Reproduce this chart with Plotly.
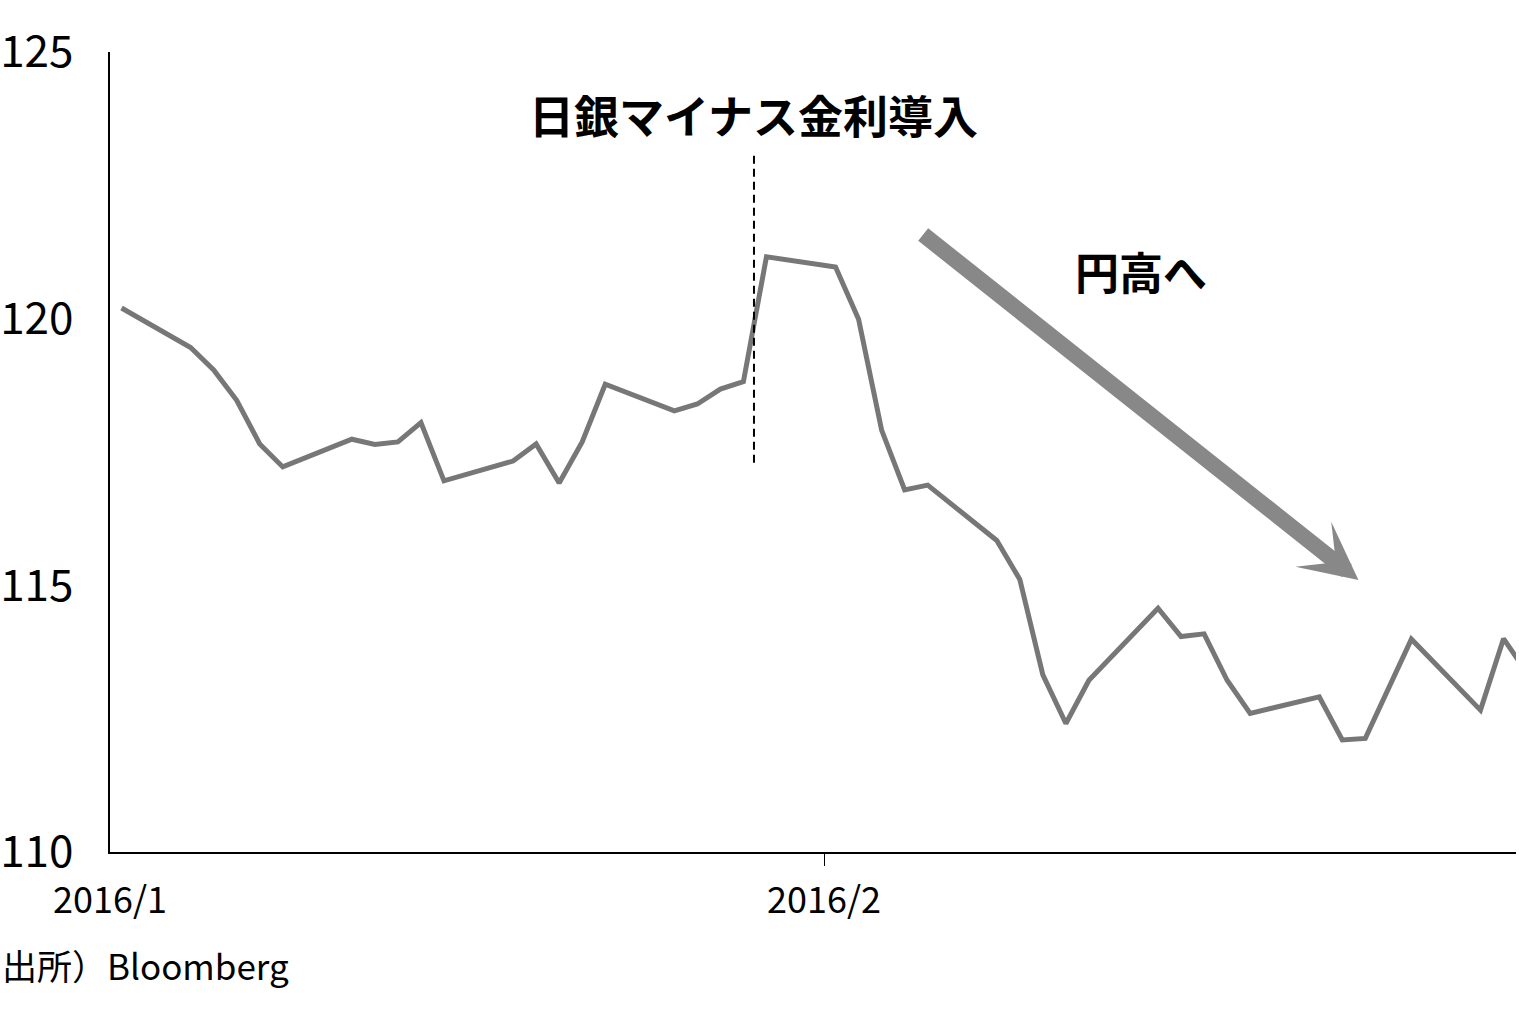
import pandas as pd
import plotly.graph_objects as go

# ---- data ----
dates = [
    "2016-01-01", "2016-01-04", "2016-01-05", "2016-01-06", "2016-01-07", "2016-01-08",
    "2016-01-11", "2016-01-12", "2016-01-13", "2016-01-14", "2016-01-15",
    "2016-01-18", "2016-01-19", "2016-01-20", "2016-01-21", "2016-01-22",
    "2016-01-25", "2016-01-26", "2016-01-27", "2016-01-28", "2016-01-29",
    "2016-02-01", "2016-02-02", "2016-02-03", "2016-02-04", "2016-02-05",
    "2016-02-08", "2016-02-09", "2016-02-10", "2016-02-11", "2016-02-12",
    "2016-02-15", "2016-02-16", "2016-02-17", "2016-02-18", "2016-02-19",
    "2016-02-22", "2016-02-23", "2016-02-24", "2016-02-25", "2016-02-26",
    "2016-02-29", "2016-03-01", "2016-03-02",
]
usdjpy = [
    120.20, 119.46, 119.04, 118.47, 117.65, 117.22,
    117.74, 117.64, 117.69, 118.05, 116.96,
    117.33, 117.65, 116.92, 117.69, 118.77,
    118.27, 118.40, 118.68, 118.82, 121.16,
    120.97, 119.99, 117.91, 116.79, 116.88,
    115.84, 115.11, 113.32, 112.41, 113.22,
    114.57, 114.04, 114.09, 113.22, 112.60,
    112.91, 112.10, 112.13, 113.05, 113.99,
    112.66, 114.00, 113.37,
]
x_tick_vals = ["2016-02-01"]
x_tick_text = ["2016/2"]
first_tick_label = "2016/1"
y_tick_vals = [110, 115, 120, 125]
y_tick_text = ["110", "115", "120", "125"]
event_label = "日銀マイナス金利導入"
trend_label = "円高へ"
source_label = "出所）Bloomberg"

FONT = "Noto Sans CJK JP"

x_vals = pd.to_datetime(dates) + pd.Timedelta(hours=12)

fig = go.Figure()
fig.add_trace(go.Scatter(
    x=x_vals, y=usdjpy, mode="lines",
    line=dict(color="#777777", width=5),
    hoverinfo="skip", showlegend=False,
))

# dashed event marker
fig.add_shape(type="line", xref="x", yref="y",
              x0="2016-01-28 23:00", x1="2016-01-28 23:00", y0=117.3, y1=123.13,
              line=dict(color="black", width=2, dash="8px,5px"))

fig.add_annotation(x="2016-01-28 23:00", y=123.82, xref="x", yref="y",
                   text=event_label, showarrow=False,
                   font=dict(family=FONT, size=45, color="black", weight=700),
                   xanchor="center", yanchor="middle")

fig.add_annotation(x="2016-02-14 18:30", y=120.89, xref="x", yref="y",
                   text=trend_label, showarrow=False,
                   font=dict(family=FONT, size=44, color="black", weight=700),
                   xanchor="center", yanchor="middle")

# big trend arrow
fig.add_annotation(x="2016-02-24 04:50", y=115.1, xref="x", yref="y",
                   ax="2016-02-05 05:45", ay=121.6, axref="x", ayref="y",
                   text="", showarrow=True, arrowhead=3, arrowsize=0.6,
                   arrowwidth=16, arrowcolor="#888888")

fig.add_annotation(x=0, y=-0.0565, xref="paper", yref="paper",
                   text=first_tick_label, showarrow=False,
                   font=dict(family=FONT, size=36, color="black"),
                   xanchor="center", yanchor="middle")

fig.add_annotation(x=-110 / 1406, y=-0.14, xref="paper", yref="paper",
                   text=source_label, showarrow=False,
                   font=dict(family=FONT, size=35, color="black"),
                   xanchor="left", yanchor="middle")

fig.update_layout(
    width=1519, height=1013,
    margin=dict(l=110, r=3, t=52, b=161),
    paper_bgcolor="white", plot_bgcolor="white",
    font=dict(family=FONT, color="black"),
    xaxis=dict(
        type="date", range=["2016-01-01", "2016-03-02 01:00"],
        tickvals=x_tick_vals, ticktext=x_tick_text,
        ticks="outside", ticklen=12, tickwidth=1, tickcolor="black",
        showline=True, linecolor="black", linewidth=1.5,
        showgrid=False, zeroline=False, automargin=False,
        tickfont=dict(family=FONT, size=36, color="black"),
        ticklabelstandoff=4,
    ),
    yaxis=dict(
        range=[110, 125],
        tickvals=y_tick_vals, ticktext=y_tick_text,
        ticks="", showline=True, linecolor="black", linewidth=1.5,
        showgrid=False, zeroline=False, automargin=False,
        tickfont=dict(family=FONT, size=44, color="black"),
        ticklabelstandoff=26,
    ),
)

fig.write_html("out.html", config={"displayModeBar": False},
               post_script="document.body.style.margin='0';")
